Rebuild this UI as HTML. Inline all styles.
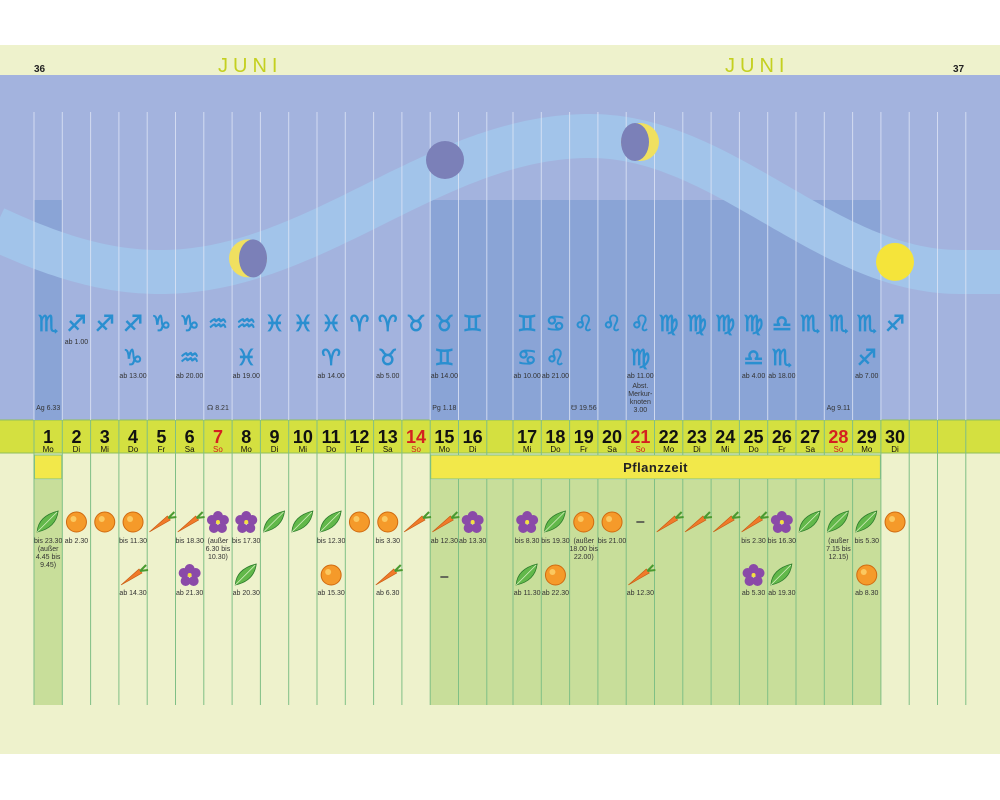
<!DOCTYPE html>
<html><head><meta charset="utf-8"><style>
html,body{margin:0;padding:0;background:#fff;}
svg{display:block;font-family:"Liberation Sans","DejaVu Sans",sans-serif;}
</style></head><body>
<svg id="cal" width="1000" height="800" viewBox="0 0 1000 800" xmlns="http://www.w3.org/2000/svg">
<rect x="0" y="45" width="1000" height="30" fill="#eef2cc"/>
<text x="34" y="72" font-size="10" font-weight="bold" fill="#222">36</text>
<text x="953" y="72" font-size="10" font-weight="bold" fill="#222">37</text>
<text x="218" y="72" font-size="20" letter-spacing="5" fill="#c4d020">JUNI</text>
<text x="725" y="72" font-size="20" letter-spacing="5" fill="#c4d020">JUNI</text>
<rect x="0" y="75" width="1000" height="345" fill="#a3b3de"/>
<rect x="0" y="453" width="1000" height="301" fill="#eef2cc"/>
<rect x="0" y="420" width="1000" height="33" fill="#d4e040"/>
<line x1="0" y1="420" x2="1000" y2="420" stroke="#8fbf5a" stroke-width="1"/>
<line x1="0" y1="453" x2="1000" y2="453" stroke="#8fbf5a" stroke-width="1"/>
<g id="layer"></g>
</svg>
<script>
const days = [1,2,3,4,5,6,7,8,9,10,11,12,13,14,15,16,17,18,19,20,21,22,23,24,25,26,27,28,29,30];
const weekdays = ["Mo","Di","Mi","Do","Fr","Sa","So","Mo","Di","Mi","Do","Fr","Sa","So","Mo","Di","Mi","Do","Fr","Sa","So","Mo","Di","Mi","Do","Fr","Sa","So","Mo","Di"];
const zodiac1 = ["♏","♐","♐","♐","♑","♑","♒","♒","♓","♓","♓","♈","♈","♉","♉","♊","♊","♋","♌","♌","♌","♍","♍","♍","♍","♎","♏","♏","♏","♐"];
const zodiac1Label = ["","ab 1.00","","","","","","","","","","","","","","","","","","","","","","","","","","","",""];
const zodiac2 = ["","","","♑","","♒","","♓","","","♈","","♉","","♊","","♋","♌","","","♍","","","","♎","♏","","","♐",""];
const zodiac2Label = ["","","","ab 13.00","","ab 20.00","","ab 19.00","","","ab 14.00","","ab 5.00","","ab 14.00","","ab 10.00","ab 21.00","","","ab 11.00","","","","ab 4.00","ab 18.00","","","ab 7.00",""];
const notes = {1:["Ag 6.33"],7:["☊ 8.21"],15:["Pg 1.18"],19:["☋ 19.56"],21:["Abst.","Merkur-","knoten","3.00"],28:["Ag 9.11"]};
const plant1 = ["leaf","orange","orange","orange","carrot","carrot","flower","flower","leaf","leaf","leaf","orange","orange","carrot","carrot","flower","flower","leaf","orange","orange","dash","carrot","carrot","carrot","carrot","flower","leaf","leaf","leaf","orange"];
const plant1Label = [["bis 23.30","(außer","4.45 bis","9.45)"],["ab 2.30"],[],["bis 11.30"],[],["bis 18.30"],["(außer","6.30 bis","10.30)"],["bis 17.30"],[],[],["bis 12.30"],[],["bis 3.30"],[],["ab 12.30"],["ab 13.30"],["bis 8.30"],["bis 19.30"],["(außer","18.00 bis","22.00)"],["bis 21.00"],[],[],[],[],["bis 2.30"],["bis 16.30"],[],["(außer","7.15 bis","12.15)"],["bis 5.30"],[]];
const plant2 = ["","","","carrot","","flower","","leaf","","","orange","","carrot","","dash","","leaf","orange","","","carrot","","","","flower","leaf","","","orange",""];
const plant2Label = ["","","","ab 14.30","","ab 21.30","","ab 20.30","","","ab 15.30","","ab 6.30","","","","ab 11.30","ab 22.30","","","ab 12.30","","","","ab 5.30","ab 19.30","","","ab 8.30",""];
const plantDays = [1,15,16,17,18,19,20,21,22,23,24,25,26,27,28,29];
const moonPhases = [{day:8,type:"first"},{day:15,type:"new"},{day:22,type:"last"},{day:30,type:"full"}];

const NS="http://www.w3.org/2000/svg";
const L=document.getElementById('layer');
const W=28.3;
function colX(d){return d<=16?34+(d-1)*W:513+(d-17)*W;}
function el(t,a,p){const e=document.createElementNS(NS,t);for(const k in a)e.setAttribute(k,a[k]);(p||L).appendChild(e);return e;}
function txt(x,y,s,size,fill,extra){const e=el('text',Object.assign({x:x,y:y,'font-size':size,fill:fill,'text-anchor':'middle'},extra||{}));e.textContent=s;return e;}
function pathY(x){
  if(x<590)return 204+68*Math.cos(Math.PI*(x-160)/430);
  if(x<960)return 204-68*Math.cos(Math.PI*(x-590)/370);
  return 272;
}

let r=el('rect',{x:colX(1),y:200,width:W,height:220,fill:'#8aa4d6'});


r=el('rect',{x:colX(15),y:200,width:colX(29)+W-colX(15),height:220,fill:'#8aa4d6'});



let dpath='';
for(let x=-5;x<=1005;x+=5){dpath+=(x===-5?'M':'L')+x+','+pathY(x).toFixed(1);}
let band=el('path',{d:dpath,fill:'none',stroke:'#a2c4ea',"stroke-width":44});



days.forEach((d,i)=>{
  const x=colX(d);
  const g=plantDays.includes(d);
  const c=el('rect',{x:x,y:480,width:W,height:225,fill:g?'#c8de9a':'#eef2cc'});
  
  
});
el('rect',{x:colX(16)+W,y:480,width:colX(17)-colX(16)-W,height:225,fill:'#c8de9a'});

const lineXs=[];
days.forEach(d=>lineXs.push(colX(d)));
lineXs.push(colX(16)+W);lineXs.push(colX(30)+W);lineXs.push(colX(30)+2*W);lineXs.push(colX(30)+3*W);
lineXs.forEach(x=>{
  el('line',{x1:x,y1:112,x2:x,y2:420,stroke:'#dfe6f6','stroke-width':1,opacity:0.8});
  el('line',{x1:x,y1:420,x2:x,y2:705,stroke:'#7fbf85','stroke-width':1});
});

moonPhases.forEach(m=>{
  const x=m.type==='first'?248:m.type==='new'?445:m.type==='last'?640:895;
  const y=m.type==='new'?160:pathY(x);
  const g=el('g',{});
  
  
  if(m.type==='full'){el('circle',{cx:x,cy:y,r:19,fill:'#f5e43a'},g);}
  else if(m.type==='new'){el('circle',{cx:x,cy:y,r:19,fill:'#7b80b8'},g);}
  else if(m.type==='first'){el('circle',{cx:x,cy:y,r:19,fill:'#f0e060'},g);el('ellipse',{cx:x+5,cy:y,rx:14,ry:19,fill:'#7b80b8'},g);}
  else{el('circle',{cx:x,cy:y,r:19,fill:'#f0e060'},g);el('ellipse',{cx:x-5,cy:y,rx:14,ry:19,fill:'#7b80b8'},g);}
});

days.forEach((d,i)=>{
  const cx=colX(d)+W/2;
  let t=txt(cx,331,zodiac1[i],22,'#2a8fd0',{'font-family':'DejaVu Sans','font-weight':'bold','stroke':'#2a8fd0','stroke-width':0.8});
  
  
  if(zodiac1Label[i])txt(cx,344,zodiac1Label[i],7,'#333');
  if(zodiac2[i]){t=txt(cx,365,zodiac2[i],22,'#2a8fd0',{'font-family':'DejaVu Sans','font-weight':'bold','stroke':'#2a8fd0','stroke-width':0.8});
    
    }
  if(zodiac2Label[i])txt(cx,378,zodiac2Label[i],7,'#333');
  if(notes[d]){const n=notes[d];const y0=n.length>1?388:410;n.forEach((s,k)=>txt(cx,y0+k*8,s,7,'#333'));}
  const red=weekdays[i]==='So';
  t=txt(cx,443,String(d),18,red?'#d42020':'#111',{'font-weight':'bold'});
  
  
  txt(cx,452,weekdays[i],8,red?'#d42020':'#111');
});

r=el('rect',{x:colX(1)+0.5,y:455,width:W-1,height:24,fill:'#f2e84a',stroke:'#7fbf85'});


r=el('rect',{x:colX(15)+0.5,y:455,width:colX(29)+W-colX(15)-1,height:24,fill:'#f2e84a',stroke:'#7fbf85'});


let pt=txt((colX(15)+colX(29)+W)/2,472,'Pflanzzeit',13,'#222',{'font-weight':'bold','letter-spacing':'0.5'});



function icon(type,cx,cy,d){
  const g=el('g',{});
  
  
  if(type==='orange'){el('circle',{cx:cx,cy:cy,r:10,fill:'#f59a2a',stroke:'#d06a10','stroke-width':1},g);el('circle',{cx:cx-3,cy:cy-3,r:3,fill:'#fbc860'},g);}
  else if(type==='carrot'){el('path',{d:`M${cx-12},${cy+10} L${cx+6},${cy-6} L${cx+9},${cy-2} Z`,fill:'#f07a2a',stroke:'#c85a10','stroke-width':0.6},g);el('path',{d:`M${cx+7},${cy-4} l6,-6 M${cx+7},${cy-4} l8,-1`,stroke:'#4a9a30','stroke-width':2},g);}
  else if(type==='leaf'){el('path',{d:`M${cx-11},${cy+10} Q${cx-10},${cy-6} ${cx+10},${cy-11} Q${cx+8},${cy+6} ${cx-11},${cy+10} Z`,fill:'#62b84a',stroke:'#2a7a2a','stroke-width':0.8},g);el('line',{x1:cx-11,y1:cy+10,x2:cx+9,y2:cy-10,stroke:'#d8f0c0','stroke-width':0.8},g);}
  else if(type==='flower'){[[0,-6],[6,-2],[4,6],[-4,6],[-6,-2]].forEach(p=>el('circle',{cx:cx+p[0],cy:cy+p[1],r:5,fill:'#8a4aa8'},g));el('circle',{cx:cx,cy:cy,r:2,fill:'#f5e040'},g);}
  else if(type==='dash'){el('line',{x1:cx-4,y1:cy,x2:cx+4,y2:cy,stroke:'#444','stroke-width':1.5},g);}
}
days.forEach((d,i)=>{
  const cx=colX(d)+W/2;
  if(plant1[i])icon(plant1[i],cx,522,d);
  plant1Label[i].forEach((s,k)=>txt(cx,543+k*8,s,7,'#333'));
  if(plant2[i])icon(plant2[i],cx,plant2[i]==='dash'?577:575,d);
  if(plant2Label[i])txt(cx,595,plant2Label[i],7,'#333');
});
</script>
</body></html>
